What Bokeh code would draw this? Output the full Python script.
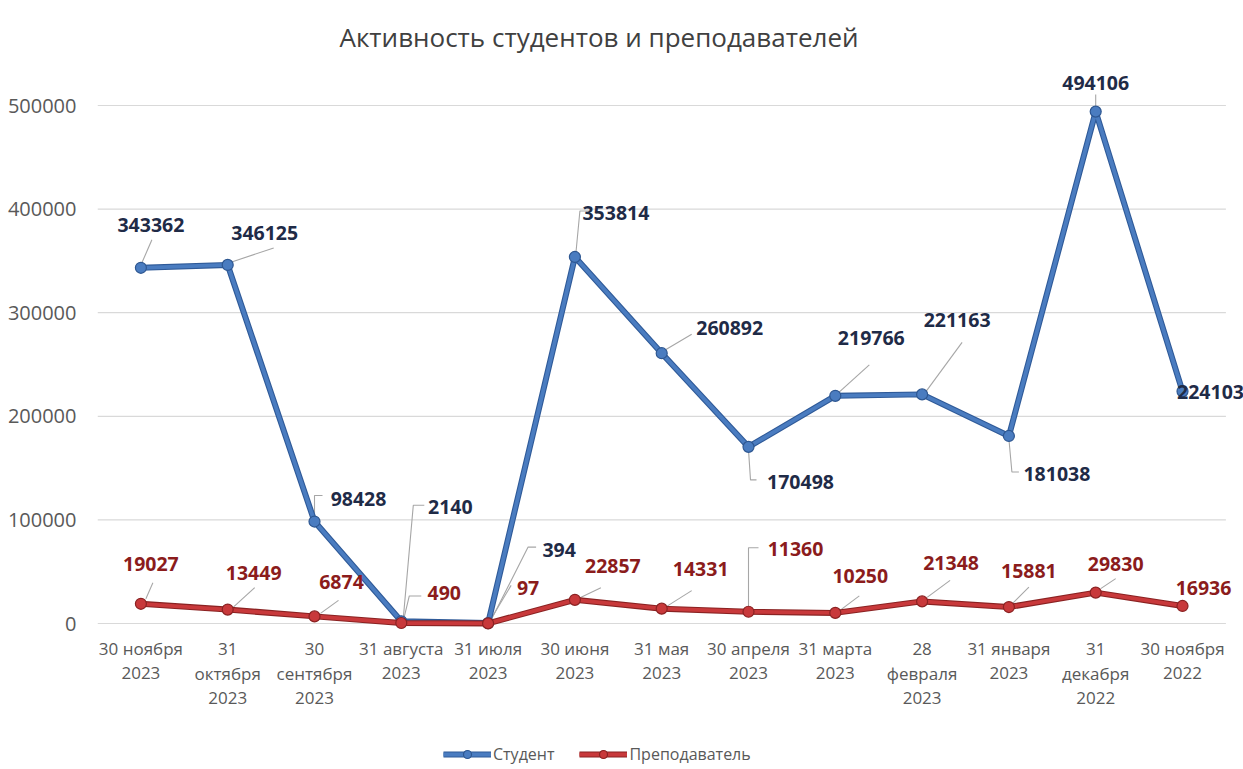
from bokeh.plotting import figure
from bokeh.models import (Range1d, FixedTicker, NumeralTickFormatter,
                          ColumnDataSource, LabelSet, Legend, LegendItem, Title)
from bokeh.core.properties import value
from bokeh.embed import file_html
from bokeh.resources import INLINE

title_text = "Активность студентов и преподавателей"
categories = ["30 ноября\n2023", "31\nоктября\n2023", "30\nсентября\n2023", "31 августа\n2023",
              "31 июля\n2023", "30 июня\n2023", "31 мая\n2023", "30 апреля\n2023",
              "31 марта\n2023", "28\nфевраля\n2023", "31 января\n2023", "31\nдекабря\n2022",
              "30 ноября\n2022"]
students = [343362, 346125, 98428, 2140, 394, 353814, 260892, 170498, 219766, 221163, 181038, 494106, 224103]
teachers = [19027, 13449, 6874, 490, 97, 22857, 14331, 11360, 10250, 21348, 15881, 29830, 16936]
y_ticks = [0, 100000, 200000, 300000, 400000, 500000]
series_names = ["Студент", "Преподаватель"]

# ---- layout / style (pixels) ----
W, H = 1243, 769
BL, BR, BT, BB = 97, 0, 62, 0
FW, FH = W - BL - BR, H - BT - BB
PX_CAT = 86.8          # width of one category band
PX_UNIT = 0.001036     # pixels per unit on the value axis
ZERO_FROM_BOTTOM = 146  # px from frame bottom to the zero line
FONT = "Open Sans"
CAT_TOP = -25          # first category-label line offset from zero line
CAT_LINE = 24.5        # category-label line spacing

n = len(categories)
idx = list(range(n))
x_start = -0.5
x_end = x_start + FW / PX_CAT
y_start = -ZERO_FROM_BOTTOM / PX_UNIT
y_end = y_start + FH / PX_UNIT

# label offsets (dx right, dy up, px) and leader polylines relative to the point
s_lab = [(10, 43), (37, 32), (44, 23), (49, 114), (71, 73), (41, 44), (68, 25),
         (52, -35), (36, 58), (35, 74), (48, -38), (0, 29), (28, -1)]
s_lead = [[(1, 5), (11, 28)], [(4, 3), (46, 17)], [(0, 5), (0, 26), (8, 26)],
          [(2, 3), (12, 116), (23, 116)], [(3, 3), (40, 76), (48, 76)],
          [(1, 4), (5, 46), (16, 46)], [(3, 3), (30, 19)],
          [(0, -3), (2, -33), (8, -33)], [(3, 3), (34, 31)], [(4, 3), (40, 52)],
          [(0, -3), (3, -36), (10, -36)], [(0, 5), (0, 17)], None]
t_lab = [(10, 40), (26, 37), (27, 34), (43, 30), (40, 35), (38, 34), (39, 40),
         (47, 63), (25, 37), (29, 38), (20, 36), (20, 29), (21, 18)]
t_lead = [[(5, 5), (12, 21)], [(4, 1), (27, 22)], [(6, 3), (24, 16)],
          [(2, 2), (8, 27), (20, 27)], [(2, 3), (23, 38)], [(3, 1), (26, 12)],
          [(3, 1), (30, 18)], [(0, 2), (0, 64), (10, 64)], [(4, 2), (24, 17)],
          [(5, 4), (28, 21)], [(4, 4), (20, 20)], [(5, 4), (20, 14)], None]

p = figure(width=W, height=H, x_range=Range1d(x_start, x_end),
           y_range=Range1d(y_start, y_end), output_backend="svg", toolbar_location=None,
           min_border_left=BL, min_border_right=BR, min_border_top=BT, min_border_bottom=BB)
p.outline_line_color = None
p.background_fill_color = "white"
p.border_fill_color = "white"

t = Title(text=title_text, align="left", offset=242, text_font=FONT, text_font_size="26px",
          text_font_style="normal", text_color="#404040", standoff=16)
p.add_layout(t, "above")

# grid lines across the category bands only
p.xgrid.visible = False
p.ygrid.visible = False
p.segment(x0=[x_start] * len(y_ticks), x1=[n - 0.5] * len(y_ticks), y0=y_ticks, y1=y_ticks,
          line_color="#d9d9d9", line_width=1.2)

p.yaxis.ticker = FixedTicker(ticks=y_ticks)
p.yaxis.formatter = NumeralTickFormatter(format="0")
p.yaxis.axis_line_color = None
p.yaxis.major_tick_line_color = None
p.yaxis.minor_tick_line_color = None
p.yaxis.major_label_text_font = FONT
p.yaxis.major_label_text_font_size = "20px"
p.yaxis.major_label_text_color = "#595959"
p.yaxis.major_label_standoff = 15

p.xaxis.visible = False

# category labels under the zero line, one centred row per text line
cx, cy, ct, co = [], [], [], []
for i, cat in zip(idx, categories):
    for j, line in enumerate(cat.split("\n")):
        cx.append(i)
        cy.append(0)
        ct.append(line)
        co.append(CAT_TOP - j * CAT_LINE)
cat_src = ColumnDataSource(dict(x=cx, y=cy, text=ct, dy=co))
p.add_layout(LabelSet(x="x", y="y", text="text", source=cat_src, y_offset="dy",
                      text_align="center", text_baseline="middle", text_font=value(FONT),
                      text_font_size="17px", text_color="#595959"))


def leaders(vals, leads):
    xs, ys = [], []
    for i, (v, ld) in zip(idx, zip(vals, leads)):
        if ld is None:
            continue
        xs.append([i + dx / PX_CAT for dx, dy in ld])
        ys.append([v + dy / PX_UNIT for dx, dy in ld])
    return xs, ys


for vals, leads in ((students, s_lead), (teachers, t_lead)):
    xs, ys = leaders(vals, leads)
    p.multi_line(xs, ys, line_color="#a6a6a6", line_width=1.1)

series = [
    (students, "#2f5a98", "#4a7cc0", "#4a7cc0", "#2e5791"),
    (teachers, "#8a2222", "#c8393b", "#c8393b", "#8a2222"),
]
items = []
for (vals, outc, inc, mfill, mline), name in zip(series, series_names):
    src = ColumnDataSource(dict(x=idx, y=vals))
    r1 = p.line("x", "y", source=src, line_color=outc, line_width=6, line_join="round")
    r2 = p.line("x", "y", source=src, line_color=inc, line_width=3.8, line_join="round")
    r3 = p.scatter("x", "y", source=src, size=11, marker="circle", fill_color=mfill,
                   line_color=mline, line_width=1.2)
    items.append(LegendItem(label=name, renderers=[r1, r2, r3]))

for vals, labs, color in ((students, s_lab, "#1f2b47"), (teachers, t_lab, "#8b1c1c")):
    src = ColumnDataSource(dict(x=idx, y=vals, text=[str(v) for v in vals],
                                dx=[a for a, b in labs], dy=[b for a, b in labs]))
    ls = LabelSet(x="x", y="y", text="text", x_offset="dx", y_offset="dy", source=src,
                  text_align="center", text_baseline="middle", text_font=value(FONT),
                  text_font_style="bold", text_font_size="19.5px", text_color=color)
    p.add_layout(ls)

legend = Legend(items=items, orientation="horizontal", location=(346, 4),
                glyph_width=48, glyph_height=20, label_standoff=2, spacing=25,
                padding=0, margin=0, border_line_color=None, background_fill_alpha=0,
                label_text_font=FONT, label_text_font_size="16px", label_text_color="#595959",
                label_height=20)
p.add_layout(legend, "center")

open("out.html", "w").write(file_html(p, INLINE))
